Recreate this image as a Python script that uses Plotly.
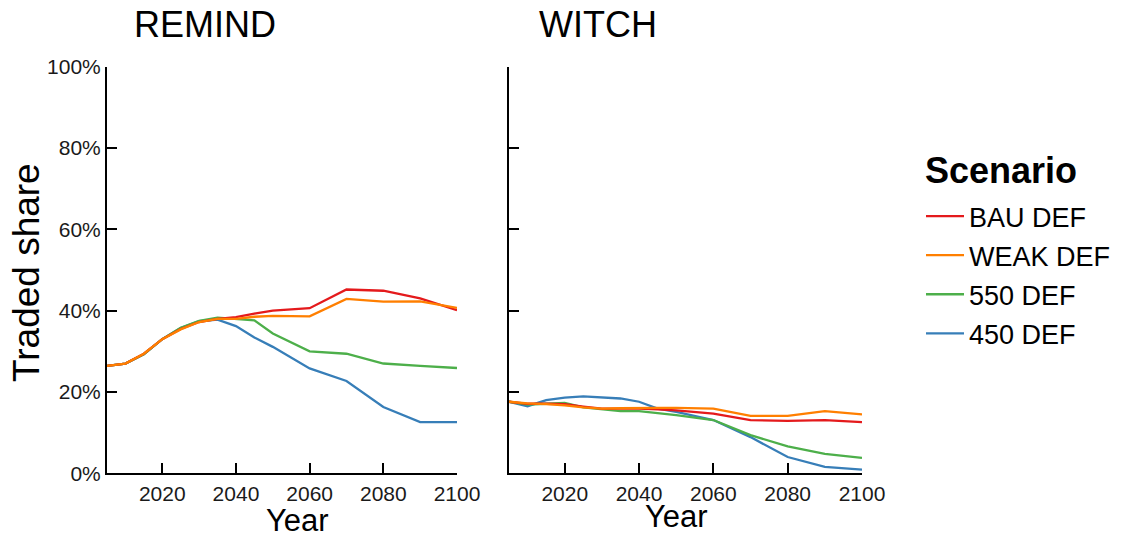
import plotly.graph_objects as go

years = [2005, 2010, 2015, 2020, 2025, 2030, 2035, 2040, 2045, 2050, 2060, 2070, 2080, 2090, 2100]

scenarios = ["BAU DEF", "WEAK DEF", "550 DEF", "450 DEF"]
colors = {"BAU DEF": "#E41A1C", "WEAK DEF": "#FF7F00", "550 DEF": "#4DAF4A", "450 DEF": "#377EB8"}

remind_bau = [26.4, 27.0, 29.4, 33.0, 35.5, 37.2, 38.0, 38.4, 39.3, 40.0, 40.6, 45.2, 44.9, 43.0, 40.1]
remind_weak = [26.4, 27.0, 29.4, 33.0, 35.4, 37.2, 38.0, 38.0, 38.5, 38.7, 38.6, 42.9, 42.2, 42.3, 40.7]
remind_550 = [26.4, 27.0, 29.3, 33.0, 35.8, 37.5, 38.3, 38.0, 37.6, 34.4, 30.0, 29.4, 27.0, 26.4, 25.9]
remind_450 = [26.4, 27.0, 29.3, 33.0, 35.7, 37.4, 37.8, 36.2, 33.4, 31.1, 25.8, 22.7, 16.3, 12.6, 12.6]

witch_bau = [17.6, 17.1, 17.1, 17.0, 16.4, 15.9, 15.9, 15.9, 15.7, 15.5, 14.7, 13.1, 12.9, 13.1, 12.6]
witch_weak = [17.6, 17.2, 17.0, 16.7, 16.2, 15.9, 16.0, 16.1, 16.1, 16.1, 15.9, 14.1, 14.1, 15.3, 14.5]
witch_550 = [17.6, 16.9, 17.1, 17.3, 16.2, 15.7, 15.3, 15.3, 14.8, 14.3, 13.1, 9.4, 6.6, 4.8, 3.8]
witch_450 = [17.6, 16.5, 18.0, 18.6, 18.9, 18.7, 18.4, 17.6, 15.9, 15.1, 13.1, 8.9, 4.0, 1.6, 0.9]

remind = {"BAU DEF": remind_bau, "WEAK DEF": remind_weak, "550 DEF": remind_550, "450 DEF": remind_450}
witch = {"BAU DEF": witch_bau, "WEAK DEF": witch_weak, "550 DEF": witch_550, "450 DEF": witch_450}

x_ticks = [2020, 2040, 2060, 2080, 2100]
y_ticks = [0, 20, 40, 60, 80, 100]
y_labels = ["0%", "20%", "40%", "60%", "80%", "100%"]

FONT = "Liberation Sans, Arial, Helvetica, sans-serif"
W, H = 1128, 540


def px(x):
    return x / W


def py(y):
    return 1 - y / H


fig = go.Figure()
draw_order = ["450 DEF", "550 DEF", "BAU DEF", "WEAK DEF"]
for s in draw_order:
    rank = scenarios.index(s)
    fig.add_trace(go.Scatter(x=years, y=remind[s], mode="lines", name=s,
                             line=dict(color=colors[s], width=2.3),
                             xaxis="x", yaxis="y", legendgroup=s, legendrank=rank + 1,
                             showlegend=True))
    fig.add_trace(go.Scatter(x=years, y=witch[s], mode="lines", name=s,
                             line=dict(color=colors[s], width=2.3),
                             xaxis="x2", yaxis="y2", legendgroup=s, legendrank=rank + 1,
                             showlegend=False))

ax_common = dict(showgrid=False, zeroline=False, showline=True, linecolor="black", linewidth=2,
                 ticks="inside", ticklen=10, tickwidth=2, tickcolor="black",
                 tickfont=dict(family=FONT, size=21, color="#1a1a1a"), automargin=False)

ydom = [py(473.3), py(66.7)]
fig.update_layout(
    width=W, height=H,
    margin=dict(l=0, r=0, t=0, b=0),
    paper_bgcolor="white", plot_bgcolor="white",
    font=dict(family=FONT, color="black"),
    xaxis=dict(domain=[px(107), px(457)], range=[2005, 2100], tickvals=x_ticks, anchor="y", **ax_common),
    yaxis=dict(domain=ydom, range=[0, 100], tickvals=y_ticks, ticktext=y_labels, anchor="x", **ax_common),
    xaxis2=dict(domain=[px(509), px(862)], range=[2005, 2100], tickvals=x_ticks, anchor="y2", **ax_common),
    yaxis2=dict(domain=ydom, range=[0, 100], tickvals=y_ticks, showticklabels=False, anchor="x2", **ax_common),
    legend=dict(x=px(921), y=py(192), xanchor="left", yanchor="top",
                font=dict(family=FONT, size=27, color="black"),
                traceorder="grouped", tracegroupgap=1,
                bgcolor="rgba(0,0,0,0)", itemwidth=38),
    showlegend=True,
)

annos = [
    dict(text="REMIND", x=px(132), y=py(25), xanchor="left", size=36),
    dict(text="WITCH", x=px(537), y=py(25), xanchor="left", size=36),
    dict(text="Year", x=px(297), y=py(520), xanchor="center", size=31),
    dict(text="Year", x=px(676), y=py(516), xanchor="center", size=31),
    dict(text="<b>Scenario</b>", x=px(923), y=py(170), xanchor="left", size=36),
]
for a in annos:
    fig.add_annotation(text=a["text"], x=a["x"], y=a["y"], xref="paper", yref="paper",
                       xanchor=a["xanchor"], yanchor="middle", showarrow=False,
                       font=dict(family=FONT, size=a["size"], color="black"))
fig.add_annotation(text="Traded share", x=px(26), y=py(273), xref="paper", yref="paper",
                   xanchor="center", yanchor="middle", textangle=-90, showarrow=False,
                   font=dict(family=FONT, size=37, color="black"))

fig.write_html("out.html", config={"displayModeBar": False},
               post_script="document.body.style.margin='0';")
